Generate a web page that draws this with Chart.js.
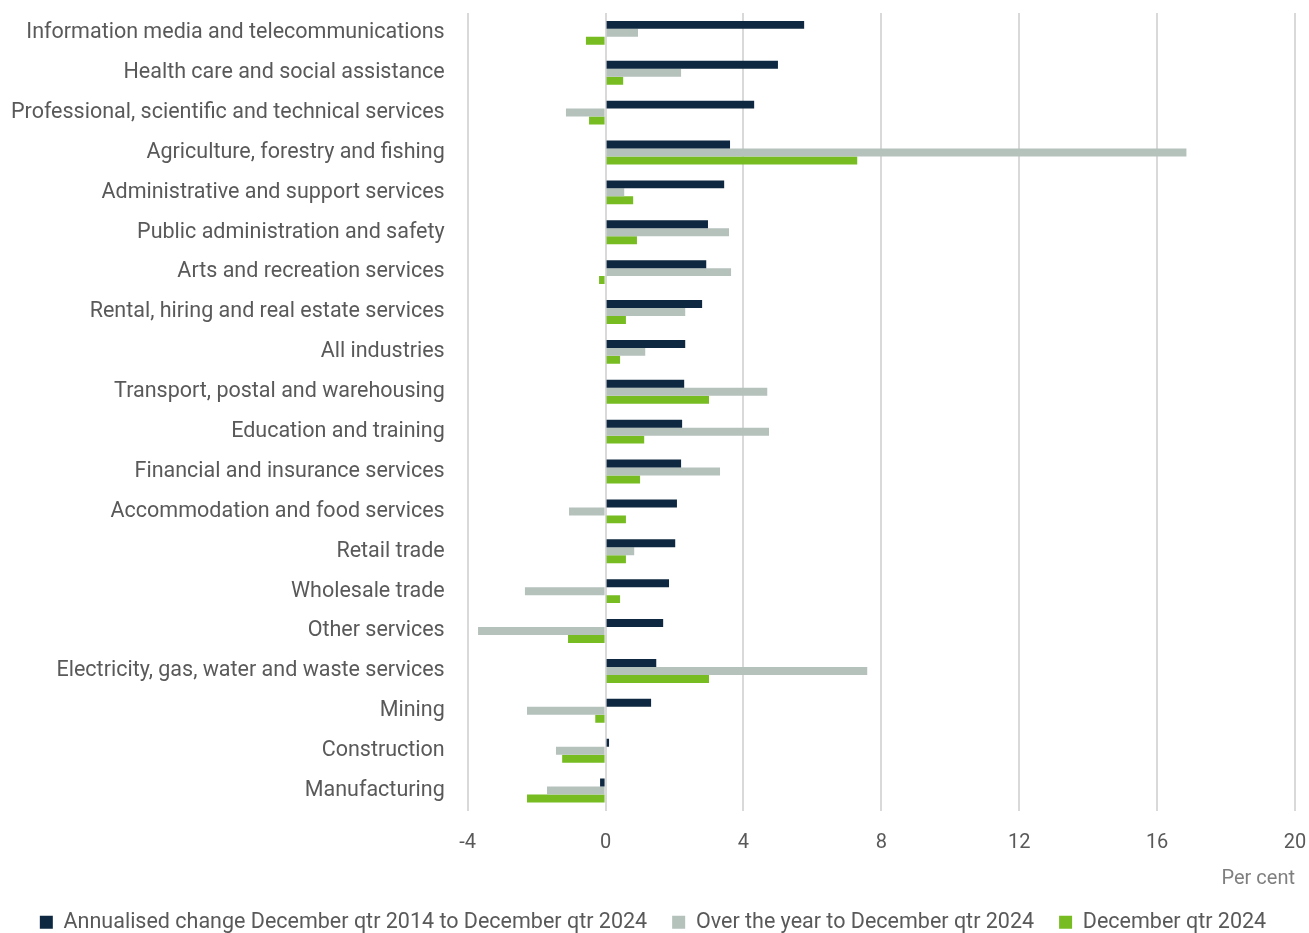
<!DOCTYPE html>
<html>
<head>
<meta charset="utf-8">
<script src="https://cdn.jsdelivr.net/npm/chart.js@4/dist/chart.umd.min.js"></script>
<style>
html,body{margin:0;padding:0;background:#fff;}
#wrap{width:1309px;height:933px;position:relative;}
</style>
</head>
<body>
<div id="wrap"><canvas id="c" width="1309" height="933"></canvas></div>
<script>
const categories = [
  "Information media and telecommunications",
  "Health care and social assistance",
  "Professional, scientific and technical services",
  "Agriculture, forestry and fishing",
  "Administrative and support services",
  "Public administration and safety",
  "Arts and recreation services",
  "Rental, hiring and real estate services",
  "All industries",
  "Transport, postal and warehousing",
  "Education and training",
  "Financial and insurance services",
  "Accommodation and food services",
  "Retail trade",
  "Wholesale trade",
  "Other services",
  "Electricity, gas, water and waste services",
  "Mining",
  "Construction",
  "Manufacturing"
];
const annualised = [5.76, 5.0, 4.31, 3.61, 3.44, 2.97, 2.92, 2.80, 2.31, 2.28, 2.22, 2.19, 2.07, 2.02, 1.84, 1.67, 1.47, 1.32, 0.1, -0.16];
const overYear = [0.94, 2.19, -1.15, 16.85, 0.54, 3.58, 3.64, 2.31, 1.15, 4.69, 4.74, 3.32, -1.06, 0.83, -2.34, -3.70, 7.59, -2.28, -1.44, -1.70];
const decQtr = [-0.57, 0.51, -0.48, 7.30, 0.80, 0.91, -0.19, 0.59, 0.42, 3.0, 1.12, 1.0, 0.59, 0.59, 0.42, -1.09, 3.0, -0.30, -1.26, -2.28];
const seriesNames = [
  "Annualised change December qtr 2014 to December qtr 2024",
  "Over the year to December qtr 2024",
  "December qtr 2024"
];
const xTicks = [-4, 0, 4, 8, 12, 16, 20];

const colors = ["#0e2841", "#b5c1bb", "#77bd22"];
const font = "Roboto";

new Chart(document.getElementById('c'), {
  type: 'bar',
  data: {
    labels: categories,
    datasets: [annualised, overYear, decQtr].map((d, i) => ({
      label: seriesNames[i],
      data: d,
      backgroundColor: colors[i],
      borderWidth: 0,
      categoryPercentage: 0.6,
      barPercentage: 1.0
    }))
  },
  options: {
    indexAxis: 'y',
    responsive: false,
    animation: false,
    devicePixelRatio: 1,
    layout: { padding: { top: 0, right: 14, left: 11, bottom: -10 } },
    plugins: {
      legend: {
        position: 'bottom',
        labels: {
          boxWidth: 13, boxHeight: 13, padding: 25,
          color: '#595959',
          font: { family: font, size: 21.5 }
        }
      },
      tooltip: { enabled: false }
    },
    scales: {
      x: {
        min: -4, max: 20,
        afterBuildTicks: (s) => { s.ticks = xTicks.map(v => ({ value: v })); },
        grid: { color: '#d9d9d9', lineWidth: 2, drawTicks: true, tickLength: 20, tickColor: 'rgba(0,0,0,0)' },
        border: { display: false },
        ticks: { color: '#595959', font: { family: font, size: 20 }, padding: 0 },
        title: {
          display: true, text: 'Per cent', align: 'end', color: '#7f7f7f',
          font: { family: font, size: 20 }, padding: { top: 12, bottom: -4 }
        }
      },
      y: {
        grid: { display: false, drawTicks: true, tickLength: 23 },
        border: { display: false },
        ticks: { color: '#595959', font: { family: font, size: 21.5 }, padding: 0, autoSkip: false }
      }
    }
  }
});
</script>
</body>
</html>
